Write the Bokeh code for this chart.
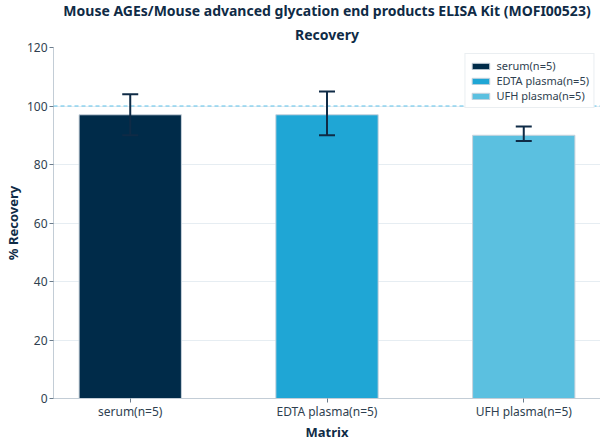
from bokeh.plotting import figure
from bokeh.models import Range1d, FixedTicker, Whisker, ColumnDataSource, Span, Title, TeeHead
from bokeh.embed import file_html
from bokeh.resources import INLINE

categories = ["serum(n=5)", "EDTA plasma(n=5)", "UFH plasma(n=5)"]
recovery = [97, 97, 90]
err_low = [90, 90, 88]
err_high = [104, 105, 93]
colors = ["#002b49", "#1fa6d5", "#5bc0e0"]
y_ticks = [0, 20, 40, 60, 80, 100, 120]
title_lines = ["Mouse AGEs/Mouse advanced glycation end products ELISA Kit (MOFI00523)", "Recovery"]

FONT = "Noto Sans"
NAVY = "#0f2b46"

p = figure(width=592, height=428, frame_width=547, frame_height=351,
           output_backend="svg", toolbar_location=None,
           x_range=Range1d(-0.39, 2.39), y_range=Range1d(0, 120),
           min_border_left=45, min_border_right=0, min_border_top=39, min_border_bottom=30)
p.outline_line_color = None
p.background_fill_color = "white"

xs = list(range(len(categories)))
for i, (c, v, col) in enumerate(zip(categories, recovery, colors)):
    p.vbar(x=[xs[i]], top=[v], width=0.52, bottom=0, fill_color=col,
           line_color="#c9d3dc", line_width=1, legend_label=c)

src = ColumnDataSource(dict(x=xs, lower=err_low, upper=err_high))
w = Whisker(source=src, base="x", lower="lower", upper="upper",
            line_color=NAVY, line_width=2, level="overlay",
            upper_head=TeeHead(size=16, line_color=NAVY, line_width=2),
            lower_head=TeeHead(size=16, line_color=NAVY, line_width=2))
p.add_layout(w)

p.add_layout(Span(location=100, dimension="width", line_color="#5bc0e8",
                  line_dash="4 3", line_width=1))

p.xaxis.ticker = FixedTicker(ticks=xs)
p.xaxis.major_label_overrides = {i: c for i, c in enumerate(categories)}
p.yaxis.ticker = FixedTicker(ticks=y_ticks)
p.xgrid.grid_line_color = None
p.ygrid.grid_line_color = "#e6edf2"
p.ygrid.grid_line_width = 1

for ax in (p.xaxis, p.yaxis):
    ax.axis_line_color = "#c3cdd6"
    ax.major_tick_line_color = "#6b7c8c"
    ax.major_tick_out = 4
    ax.major_tick_in = 0
    ax.minor_tick_line_color = None
    ax.major_label_text_font = FONT
    ax.major_label_text_font_size = "12px"
    ax.major_label_text_color = "#2f3f50"
    ax.axis_label_text_font = FONT
    ax.axis_label_text_font_size = "13px"
    ax.axis_label_text_font_style = "bold"
    ax.axis_label_text_color = NAVY
p.xaxis.axis_label = "Matrix"
p.yaxis.axis_label = "% Recovery"
p.xaxis.axis_label_standoff = 0
p.yaxis.axis_label_standoff = 2
p.xaxis.major_label_standoff = 0
p.yaxis.major_label_standoff = 2

p.add_layout(Title(text=title_lines[1], align="center", text_font=FONT,
                   text_font_size="14px", text_font_style="bold", text_color=NAVY,
                   standoff=8), "above")
p.add_layout(Title(text=title_lines[0], align="center", text_font=FONT,
                   text_font_size="14px", text_font_style="bold", text_color=NAVY,
                   standoff=-3), "above")

lg = p.legend[0]
lg.location = "top_right"
lg.label_text_font = FONT
lg.label_text_font_size = "11px"
lg.label_text_color = "#2f3f50"
lg.glyph_width = 22
lg.glyph_height = 8
lg.label_height = 12
lg.spacing = 0
lg.padding = 4
lg.margin = 6
lg.border_line_color = "#d5dde4"
lg.background_fill_alpha = 1

open("out.html", "w").write(file_html(p, INLINE))
